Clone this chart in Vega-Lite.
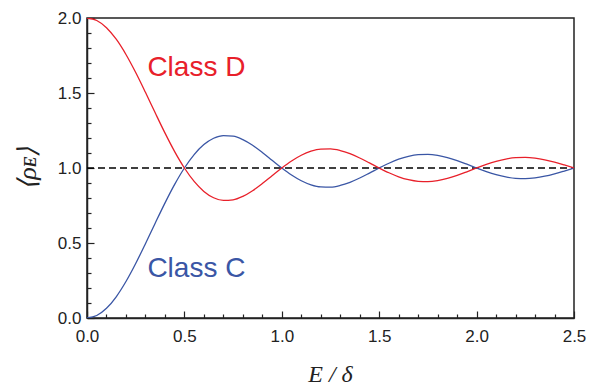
{
  "$schema": "https://vega.github.io/schema/vega-lite/v6.json",
  "width": 487,
  "height": 300,
  "autosize": {"type": "none"},
  "padding": {"left": 87, "top": 18, "right": 21, "bottom": 70},
  "background": "white",
  "config": {
    "view": {"stroke": "#222222", "strokeWidth": 1.5},
    "axis": {
      "grid": false,
      "domainColor": "#222222",
      "domainWidth": 1.5,
      "tickColor": "#222222",
      "tickWidth": 1.2,
      "labelFont": "Liberation Sans",
      "labelFontSize": 17,
      "labelColor": "#222222",
      "titleColor": "#222222",
      "labelOverlap": false,
      "labelFlush": false
    }
  },
  "datasets": {
    "curves": [
      {"x": 0.00, "D": 2.0000, "C": 0.0000},
      {"x": 0.05, "D": 1.9836, "C": 0.0164},
      {"x": 0.10, "D": 1.9355, "C": 0.0645},
      {"x": 0.15, "D": 1.8584, "C": 0.1416},
      {"x": 0.20, "D": 1.7568, "C": 0.2432},
      {"x": 0.25, "D": 1.6366, "C": 0.3634},
      {"x": 0.30, "D": 1.5046, "C": 0.4954},
      {"x": 0.35, "D": 1.3679, "C": 0.6321},
      {"x": 0.40, "D": 1.2339, "C": 0.7661},
      {"x": 0.45, "D": 1.1093, "C": 0.8907},
      {"x": 0.50, "D": 1.0000, "C": 1.0000},
      {"x": 0.55, "D": 0.9106, "C": 1.0894},
      {"x": 0.60, "D": 0.8441, "C": 1.1559},
      {"x": 0.65, "D": 0.8019, "C": 1.1981},
      {"x": 0.70, "D": 0.7838, "C": 1.2162},
      {"x": 0.75, "D": 0.7878, "C": 1.2122},
      {"x": 0.80, "D": 0.8108, "C": 1.1892},
      {"x": 0.85, "D": 0.8485, "C": 1.1515},
      {"x": 0.90, "D": 0.8961, "C": 1.1039},
      {"x": 0.95, "D": 0.9482, "C": 1.0518},
      {"x": 1.00, "D": 1.0000, "C": 1.0000},
      {"x": 1.05, "D": 1.0468, "C": 0.9532},
      {"x": 1.10, "D": 1.0850, "C": 0.9150},
      {"x": 1.15, "D": 1.1120, "C": 0.8880},
      {"x": 1.20, "D": 1.1261, "C": 0.8739},
      {"x": 1.25, "D": 1.1273, "C": 0.8727},
      {"x": 1.30, "D": 1.1164, "C": 0.8836},
      {"x": 1.35, "D": 1.0954, "C": 0.9046},
      {"x": 1.40, "D": 1.0668, "C": 0.9332},
      {"x": 1.45, "D": 1.0339, "C": 0.9661},
      {"x": 1.50, "D": 1.0000, "C": 1.0000},
      {"x": 1.55, "D": 0.9683, "C": 1.0317},
      {"x": 1.60, "D": 0.9415, "C": 1.0585},
      {"x": 1.65, "D": 0.9220, "C": 1.0780},
      {"x": 1.70, "D": 0.9110, "C": 1.0890},
      {"x": 1.75, "D": 0.9091, "C": 1.0909},
      {"x": 1.80, "D": 0.9159, "C": 1.0841},
      {"x": 1.85, "D": 0.9304, "C": 1.0696},
      {"x": 1.90, "D": 0.9508, "C": 1.0492},
      {"x": 1.95, "D": 0.9748, "C": 1.0252},
      {"x": 2.00, "D": 1.0000, "C": 1.0000},
      {"x": 2.05, "D": 1.0240, "C": 0.9760},
      {"x": 2.10, "D": 1.0445, "C": 0.9555},
      {"x": 2.15, "D": 1.0599, "C": 0.9401},
      {"x": 2.20, "D": 1.0688, "C": 0.9312},
      {"x": 2.25, "D": 1.0707, "C": 0.9293},
      {"x": 2.30, "D": 1.0658, "C": 0.9342},
      {"x": 2.35, "D": 1.0548, "C": 0.9452},
      {"x": 2.40, "D": 1.0390, "C": 0.9610},
      {"x": 2.45, "D": 1.0201, "C": 0.9799},
      {"x": 2.50, "D": 1.0000, "C": 1.0000}
    ],
    "labels": [
      {"label": "Class D", "x": 0.31, "y": 1.667, "series": "Class D"},
      {"label": "Class C", "x": 0.31, "y": 0.325, "series": "Class C"}
    ],
    "ref": [{"x": 0, "y": 1}, {"x": 2.5, "y": 1}]
  },
  "encoding": {
    "x": {
      "field": "x", "type": "quantitative",
      "scale": {"domain": [0, 2.5], "nice": false, "zero": false},
      "axis": {
        "title": "E / δ",
        "titleFont": "Liberation Serif",
        "titleFontStyle": "italic",
        "titleFontWeight": "normal",
        "titleFontSize": 24,
        "titleX": 243,
        "titleY": 56,
        "titleBaseline": "middle",
        "titleAlign": "center",
        "values": [0, 0.1, 0.2, 0.3, 0.4, 0.5, 0.6, 0.7, 0.8, 0.9, 1, 1.1, 1.2, 1.3, 1.4, 1.5, 1.6, 1.7, 1.8, 1.9, 2, 2.1, 2.2, 2.3, 2.4, 2.5],
        "labelExpr": "abs(datum.value*2 - round(datum.value*2)) < 0.001 ? format(datum.value, '.1f') : ''",
        "labelPadding": 17,
        "tickSize": {"condition": {"test": "abs(datum.value*2 - round(datum.value*2)) < 0.001", "value": -7}, "value": -4},
        "labelOverlap": false
      }
    },
    "y": {
      "field": "y", "type": "quantitative",
      "scale": {"domain": [0, 2], "nice": false},
      "axis": {
        "title": "⟨ρᴇ⟩",
        "titleFont": "Liberation Serif",
        "titleFontStyle": "italic",
        "titleFontWeight": "normal",
        "titleFontSize": 26,
        "titleAngle": -90,
        "titleX": -60,
        "titleY": 150,
        "titleBaseline": "middle",
        "titleAlign": "center",
        "values": [0, 0.1, 0.2, 0.3, 0.4, 0.5, 0.6, 0.7, 0.8, 0.9, 1, 1.1, 1.2, 1.3, 1.4, 1.5, 1.6, 1.7, 1.8, 1.9, 2],
        "labelExpr": "abs(datum.value*2 - round(datum.value*2)) < 0.001 ? format(datum.value, '.1f') : ''",
        "labelPadding": 13,
        "tickSize": {"condition": {"test": "abs(datum.value*2 - round(datum.value*2)) < 0.001", "value": -7}, "value": -4},
        "labelOverlap": false
      }
    }
  },
  "layer": [
    {
      "data": {"name": "ref"},
      "mark": {"type": "line", "color": "#000000", "strokeDash": [7, 4], "strokeWidth": 1.3}
    },
    {
      "data": {"name": "curves"},
      "transform": [
        {"fold": ["C", "D"], "as": ["key", "y"]},
        {"calculate": "datum.key === 'C' ? 'Class C' : 'Class D'", "as": "series"}
      ],
      "mark": {"type": "line", "interpolate": "monotone", "strokeWidth": 1.3, "clip": true},
      "encoding": {
        "color": {
          "field": "series", "type": "nominal",
          "scale": {"domain": ["Class C", "Class D"], "range": ["#3a56a5", "#e8202a"]},
          "legend": null
        }
      }
    },
    {
      "data": {"name": "labels"},
      "mark": {"type": "text", "align": "left", "baseline": "middle", "font": "Liberation Sans", "fontSize": 28},
      "encoding": {
        "text": {"field": "label"},
        "color": {"field": "series", "type": "nominal", "legend": null}
      }
    }
  ]
}
